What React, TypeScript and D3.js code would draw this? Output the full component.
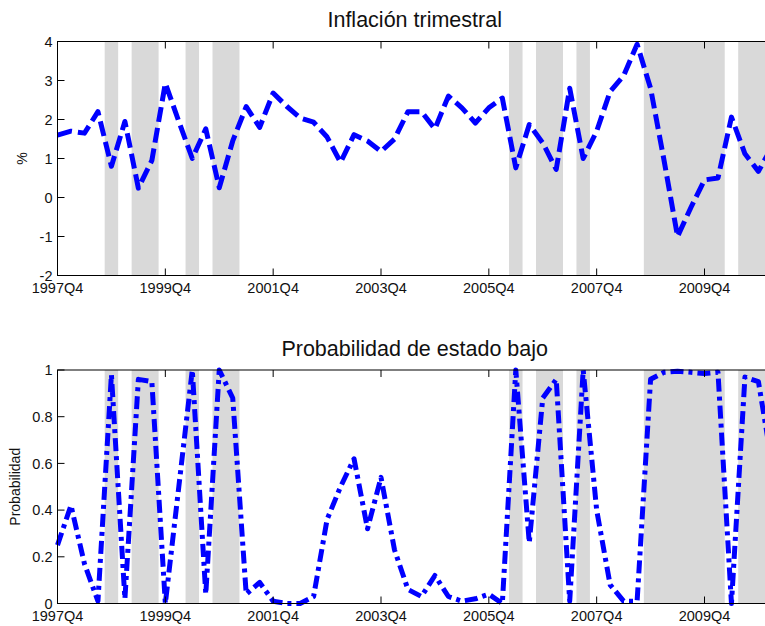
import * as d3 from "d3";

// quarters on the x axis (last one falls just outside the visible area)
const quarters = [
  "1997Q4", "1998Q1", "1998Q2", "1998Q3", "1998Q4", "1999Q1", "1999Q2", "1999Q3", "1999Q4",
  "2000Q1", "2000Q2", "2000Q3", "2000Q4", "2001Q1", "2001Q2", "2001Q3", "2001Q4",
  "2002Q1", "2002Q2", "2002Q3", "2002Q4", "2003Q1", "2003Q2", "2003Q3", "2003Q4",
  "2004Q1", "2004Q2", "2004Q3", "2004Q4", "2005Q1", "2005Q2", "2005Q3", "2005Q4",
  "2006Q1", "2006Q2", "2006Q3", "2006Q4", "2007Q1", "2007Q2", "2007Q3", "2007Q4",
  "2008Q1", "2008Q2", "2008Q3", "2008Q4", "2009Q1", "2009Q2", "2009Q3", "2009Q4",
  "2010Q1", "2010Q2", "2010Q3", "2010Q4", "2011Q1",
];

// quarterly inflation, %
const inflation = [
  1.6, 1.7, 1.65, 2.2, 0.8, 1.95, 0.24, 0.95, 2.93,
  1.95, 1.0, 1.76, 0.25, 1.45, 2.33, 1.8, 2.68,
  2.34, 2.04, 1.93, 1.55, 0.9, 1.61, 1.45, 1.18,
  1.5, 2.2, 2.2, 1.76, 2.6, 2.3, 1.91, 2.3,
  2.55, 0.76, 1.87, 1.4, 0.72, 2.8, 1.0, 1.7,
  2.72, 3.12, 3.93, 2.8, 0.95, -1.0, -0.25, 0.45,
  0.5, 2.06, 1.12, 0.67, 1.3,
];

// probability of the low state
const probLow = [
  0.25, 0.42, 0.17, 0.01, 0.98, 0.02, 0.96, 0.95, 0.0,
  0.5, 1.0, 0.04, 1.0, 0.88, 0.04, 0.09, 0.01,
  0.0, 0.0, 0.03, 0.36, 0.5, 0.62, 0.32, 0.54,
  0.23, 0.06, 0.03, 0.12, 0.03, 0.01, 0.02, 0.04,
  0.0, 1.0, 0.26, 0.88, 0.96, 0.01, 1.0, 0.4,
  0.08, 0.01, 0.01, 0.96, 0.99, 0.995, 0.99, 0.985,
  0.99, 0.0, 0.97, 0.95, 0.6,
];

// shaded periods (first and last quarter)
const shadedStart = ["1998Q4", "1999Q2", "2000Q2", "2000Q4", "2006Q2", "2006Q4", "2007Q3", "2008Q4", "2010Q3"];
const shadedEnd = ["1998Q4", "1999Q3", "2000Q2", "2001Q1", "2006Q2", "2007Q1", "2007Q3", "2010Q1", "2011Q1"];

const xTickLabels = ["1997Q4", "1999Q4", "2001Q4", "2003Q4", "2005Q4", "2007Q4", "2009Q4"];
const inflTicks = [-2, -1, 0, 1, 2, 3, 4];
const probTicks = [0, 0.2, 0.4, 0.6, 0.8, 1];

const W = 765;
const H = 626;
const FONT = "'Liberation Sans', Arial, Helvetica, sans-serif";
const left = 57.5;
const right = 771.9;
const TICK = 7;

const x = d3.scalePoint<string>().domain(quarters).range([left, right]);
const step = x.step();

function Panel({
  title, ylabel, values, domain, ticks, top, bottom, dash, titleY, ylabelX,
}: {
  title: string; ylabel: string; values: number[]; domain: [number, number]; ticks: number[];
  top: number; bottom: number; dash: string; titleY: number; ylabelX: number;
}) {
  const y = d3.scaleLinear().domain(domain).range([bottom, top]);
  const line = d3.line<number>()
    .x((_, i) => x(quarters[i]) as number)
    .y(d => y(d));

  return (
    <g>
      {shadedStart.map((s, i) => {
        const x0 = (x(s) as number) - step / 2;
        const x1 = (x(shadedEnd[i]) as number) + step / 2;
        return <rect key={s} x={x0} y={top} width={x1 - x0} height={bottom - top} fill="#d9d9d9" />;
      })}
      <path
        d={line(values) || ""}
        fill="none"
        stroke="#0000ff"
        strokeWidth={5}
        strokeDasharray={dash}
        strokeLinejoin="round"
      />
      <rect x={left} y={top} width={right - left} height={bottom - top} fill="none" stroke="#000" strokeWidth={1} />
      {ticks.map(t => (
        <g key={t}>
          <line x1={left} x2={left + TICK} y1={y(t)} y2={y(t)} stroke="#000" />
          <text x={left - 5} y={y(t)} dy="0.36em" textAnchor="end" fontSize={14.5} fontFamily={FONT} fill="#111">
            {String(t)}
          </text>
        </g>
      ))}
      {xTickLabels.map(l => {
        const px = x(l) as number;
        return (
          <g key={l}>
            <line x1={px} x2={px} y1={bottom} y2={bottom - TICK} stroke="#000" />
            <line x1={px} x2={px} y1={top} y2={top + TICK} stroke="#000" />
            <text x={px} y={bottom + 17} textAnchor="middle" fontSize={14.5} fontFamily={FONT} fill="#111">
              {l}
            </text>
          </g>
        );
      })}
      <text x={(left + right) / 2} y={titleY} textAnchor="middle" fontSize={21.5} fontFamily={FONT} fill="#111">
        {title}
      </text>
      <text
        transform={`translate(${ylabelX},${(top + bottom) / 2}) rotate(-90)`}
        textAnchor="middle"
        fontSize={14}
        fontFamily={FONT}
        fill="#111"
      >
        {ylabel}
      </text>
    </g>
  );
}

export default function App() {
  return (
    <div style={{ position: "absolute", left: 0, top: 0, width: W, height: H, background: "#fff" }}>
      <svg width={W} height={H} style={{ display: "block" }}>
        <rect width={W} height={H} fill="#fff" />
        <Panel
          title="Inflación trimestral"
          ylabel="%"
          values={inflation}
          domain={[-2, 4]}
          ticks={inflTicks}
          top={41.5}
          bottom={275.5}
          dash="15,6"
          titleY={27}
          ylabelX={27}
        />
        <Panel
          title="Probabilidad de estado bajo"
          ylabel="Probabilidad"
          values={probLow}
          domain={[0, 1]}
          ticks={probTicks}
          top={370}
          bottom={603.5}
          dash="13,5,4,5"
          titleY={356}
          ylabelX={20}
        />
      </svg>
    </div>
  );
}
